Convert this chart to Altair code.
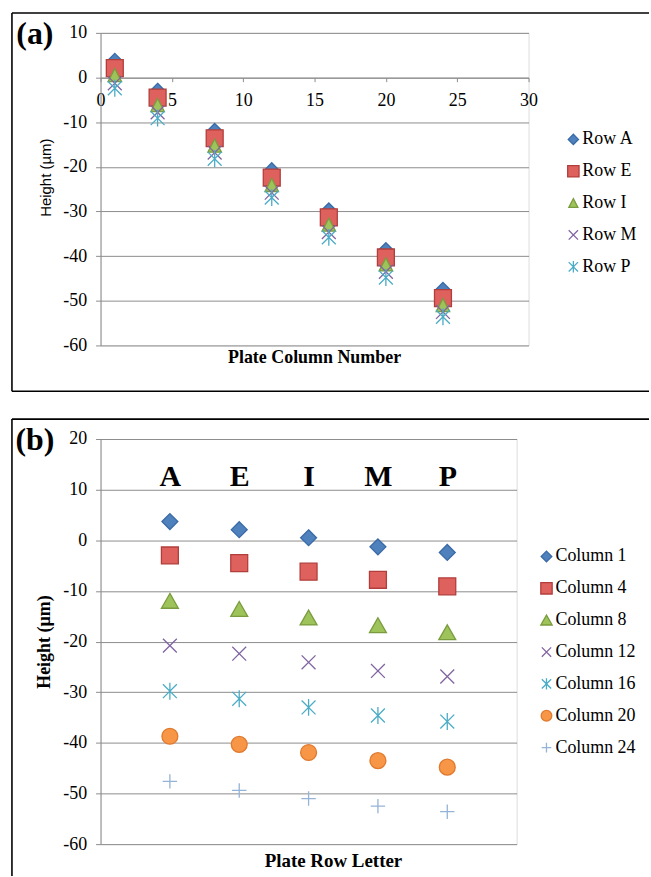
import altair as alt
import pandas as pd

# ---------------- data ----------------
row_letters = ["A", "E", "I", "M", "P"]
plate_columns = [1, 4, 8, 12, 16, 20, 24]

height_col1 = [3.7, 2.1, 0.5, -1.3, -2.4]
height_col4 = [-3.0, -4.5, -6.2, -7.8, -9.1]
height_col8 = [-12.0, -13.6, -15.3, -16.8, -18.2]
height_col12 = [-20.8, -22.4, -24.1, -25.8, -26.9]
height_col16 = [-29.8, -31.3, -33.0, -34.6, -35.8]
height_col20 = [-38.7, -40.3, -41.9, -43.5, -44.8]
height_col24 = [-47.6, -49.4, -51.0, -52.5, -53.6]

heights_by_column = [height_col1, height_col4, height_col8, height_col12,
                     height_col16, height_col20, height_col24]

y_ticks_a = [10, 0, -10, -20, -30, -40, -50, -60]
x_ticks_a = [0, 5, 10, 15, 20, 25, 30]
y_ticks_b = [20, 10, 0, -10, -20, -30, -40, -50, -60]

# ---------------- marker glyphs (unit paths, drawn at a common size) ----------------
DIAMOND = "M0,-0.94L0.94,0L0,0.94L-0.94,0Z"
DIAMOND_A = "M0,-0.9L0.9,0L0,0.9L-0.9,0Z"
SQUARE = "M-1,-1L1,-1L1,1L-1,1Z"
TRI_B = "M0,-0.9L1,0.85L-1,0.85Z"
TRI_A = "M0,-0.8L0.8,0.75L-0.8,0.75Z"
X_PATH = "M-0.82,-0.82L0.82,0.82M-0.82,0.82L0.82,-0.82"
AST_PATH = "M-0.82,-0.82L0.82,0.82M-0.82,0.82L0.82,-0.82M0,-1L0,1"
CIRCLE = "M-0.94,0A0.94,0.94 0 1,0 0.94,0A0.94,0.94 0 1,0 -0.94,0Z"
PLUS_PATH = "M-0.85,0L0.85,0M0,-0.85L0,0.85"

SERIF = "Liberation Serif"
SANS = "Liberation Sans"
GRID = "#8C8C8C"
HYPHEN = "replace(datum.label, '\u2212', '-')"

row_names = ["Row " + r for r in row_letters]
col_names = ["Column " + str(c) for c in plate_columns]

shapes_a = [DIAMOND_A, SQUARE, TRI_A, X_PATH, AST_PATH]
fills_a = ["#4F81BD", "#DE615E", "#9DC35A", "transparent", "transparent"]
strokes_a = ["#3A6AA6", "#B23E3B", "#7A9C3E", "#8064A2", "#4BACC6"]

shapes_b = [DIAMOND, SQUARE, TRI_B, X_PATH, AST_PATH, CIRCLE, PLUS_PATH]
fills_b = ["#4F81BD", "#DE615E", "#9DC35A", "transparent", "transparent", "#F79646", "transparent"]
strokes_b = ["#3A6AA6", "#B23E3B", "#7A9C3E", "#8064A2", "#4BACC6", "#E07A30", "#95B3D7"]

# ---------------- tables ----------------
recs_a = []
for ri, r in enumerate(row_letters):
    for ci, c in enumerate(plate_columns):
        recs_a.append({"series": row_names[ri], "col": c, "height": heights_by_column[ci][ri]})
df_a = pd.DataFrame(recs_a)

recs_b = []
for ci, c in enumerate(plate_columns):
    for ri, r in enumerate(row_letters):
        recs_b.append({"series": col_names[ci], "row": r, "height": heights_by_column[ci][ri]})
df_b = pd.DataFrame(recs_b)

one = pd.DataFrame({"k": [0]})


def text_layer(label, x, y, size, bold=True, font=SERIF):
    return alt.Chart(pd.DataFrame({"t": [label]})).mark_text(
        font=font, fontSize=size, fontWeight="bold" if bold else "normal", color="black",
        align="center", baseline="middle").encode(
        x=alt.value(x), y=alt.value(y), text="t:N")


def frame_layers(bottom_y, full_box, label):
    top = alt.Chart(one).mark_rule(color="black", strokeWidth=1.6).encode(
        x=alt.value(-89), x2=alt.value(551), y=alt.value(-20))
    left = alt.Chart(one).mark_rule(color="black", strokeWidth=1.6).encode(
        x=alt.value(-89), y=alt.value(-20), y2=alt.value(bottom_y))
    layers = [top, left, text_layer(label, -66, 1, 32)]
    if full_box:
        bottom = alt.Chart(one).mark_rule(color="black", strokeWidth=1.6).encode(
            x=alt.value(-89), x2=alt.value(551), y=alt.value(bottom_y))
        layers.append(bottom)
    return layers


LEG_COMMON = dict(title=None, orient="none", labelFont=SERIF, labelFontSize=18,
                  labelColor="black", symbolSize=130, symbolStrokeWidth=1.3,
                  labelOffset=0, rowPadding=14)

# ---------------- panel (a) ----------------
W_A, H_A = 430, 314
leg_a = alt.Legend(legendX=466, legendY=98, **LEG_COMMON)
points_a = alt.Chart(df_a).mark_point(filled=True, opacity=1, size=289, strokeWidth=1.3).encode(
    x=alt.X("col:Q", scale=alt.Scale(domain=[0, 30], nice=False, zero=False),
            axis=alt.Axis(values=x_ticks_a, orient="bottom", offset=-269, grid=False,
                          title=None, domainColor=GRID, tickColor=GRID, tickSize=4,
                          labelPadding=10, labelFont=SERIF, labelFontSize=18,
                          labelColor="black", labelFlush=False)),
    y=alt.Y("height:Q", scale=alt.Scale(domain=[-60, 10], nice=False, zero=False),
            axis=alt.Axis(values=y_ticks_a, title="Height (µm)", grid=True, gridColor=GRID,
                          domainColor=GRID, tickColor=GRID, tickSize=5, labelPadding=9,
                          labelFont=SERIF, labelFontSize=18, labelColor="black",
                          labelExpr=HYPHEN,
                          titleFont=SANS, titleFontSize=15, titleFontWeight="normal",
                          titleColor="black", titlePadding=9, titleY=145)),
    shape=alt.Shape("series:N", scale=alt.Scale(domain=row_names, range=shapes_a), legend=leg_a),
    fill=alt.Fill("series:N", scale=alt.Scale(domain=row_names, range=fills_a), legend=leg_a),
    stroke=alt.Stroke("series:N", scale=alt.Scale(domain=row_names, range=strokes_a), legend=leg_a),
)

chart_a = alt.layer(
    points_a, *frame_layers(360, True, "(a)"),
    text_layer("Plate Column Number", W_A / 2, H_A + 13, 18),
).properties(width=W_A, height=H_A)

# ---------------- panel (b) ----------------
W_B, H_B = 418, 407
leg_b = alt.Legend(legendX=439, legendY=109, **LEG_COMMON)
points_b = alt.Chart(df_b).mark_point(filled=True, opacity=1, size=289, strokeWidth=1.3).encode(
    x=alt.X("row:N", scale=alt.Scale(type="point", domain=row_letters, padding=1),
            axis=alt.Axis(orient="top", offset=-47, title=None, domain=False, ticks=False,
                          grid=False, labelPadding=0, labelAngle=0, labelBaseline="alphabetic",
                          labelFont=SERIF, labelFontSize=30, labelFontWeight="bold",
                          labelColor="black")),
    y=alt.Y("height:Q", scale=alt.Scale(domain=[-60, 20], nice=False, zero=False),
            axis=alt.Axis(values=y_ticks_b, title="Height (µm)", grid=True, gridColor=GRID,
                          domainColor=GRID, tickColor=GRID, tickSize=5, labelPadding=9,
                          labelFont=SERIF, labelFontSize=18, labelColor="black",
                          labelExpr=HYPHEN,
                          titleFont=SERIF, titleFontSize=18, titleFontWeight="bold",
                          titleColor="black", titlePadding=9)),
    shape=alt.Shape("series:N", scale=alt.Scale(domain=col_names, range=shapes_b), legend=leg_b),
    fill=alt.Fill("series:N", scale=alt.Scale(domain=col_names, range=fills_b), legend=leg_b),
    stroke=alt.Stroke("series:N", scale=alt.Scale(domain=col_names, range=strokes_b), legend=leg_b),
)

chart_b = alt.layer(
    points_b, *frame_layers(439, False, "(b)"),
    text_layer("Plate Row Letter", W_B / 2 + 25, H_B + 17, 19),
).properties(width=W_B, height=H_B)

chart = alt.vconcat(chart_a, chart_b, spacing=24).resolve_scale(
    x="independent", y="independent", shape="independent", fill="independent",
    stroke="independent",
).properties(
    padding={"left": 10, "top": 9, "right": 0, "bottom": 0}
).configure_view(stroke=None).configure(background="white")

chart.save("out.html", embed_options={"renderer": "svg", "actions": False})
